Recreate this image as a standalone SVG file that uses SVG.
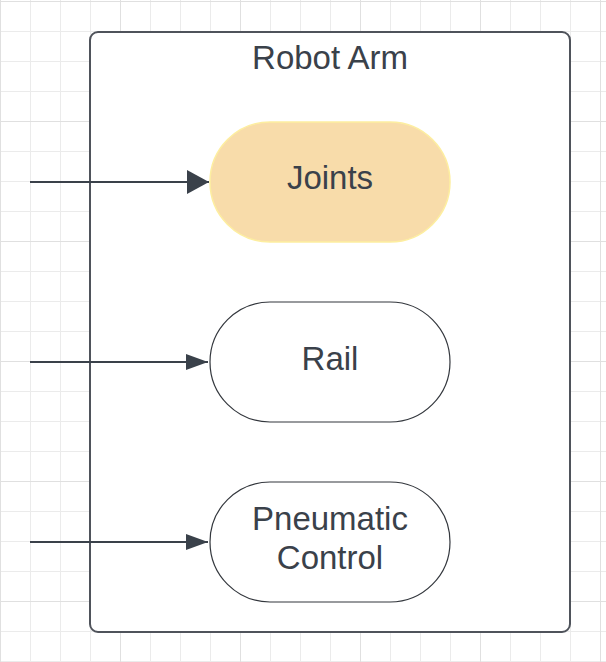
<svg xmlns="http://www.w3.org/2000/svg" width="606" height="662" viewBox="0 0 606 662">
  <defs>
    <pattern id="minor" patternUnits="userSpaceOnUse" x="0" y="1" width="30" height="30">
      <path d="M0.5 0 V30 M0 0.5 H30" stroke="#ebebeb" stroke-width="1" fill="none"/>
    </pattern>
    <pattern id="major" patternUnits="userSpaceOnUse" x="0" y="1" width="120" height="120">
      <path d="M0.5 0 V120 M0 0.5 H120" stroke="#e0e0e0" stroke-width="1" fill="none"/>
    </pattern>
    <marker id="bigHead" markerUnits="userSpaceOnUse" markerWidth="24" markerHeight="26" refX="22" refY="12" orient="auto">
      <path d="M0 0 L22 12 L0 24 Z" fill="#3a414a"/>
    </marker>
    <marker id="head" markerUnits="userSpaceOnUse" markerWidth="24" markerHeight="18" refX="22" refY="8" orient="auto">
      <path d="M0 0 L22 8 L0 16 Z" fill="#3a414a"/>
    </marker>
  </defs>
  <style>
    .lbl { font-family: "Liberation Sans", Arial, sans-serif; font-size: 33px; fill: #3a414a; text-anchor: middle; }
    .term { fill: #ffffff; stroke: #33373d; stroke-width: 1.2; }
    .conn { stroke: #3a414a; stroke-width: 2; fill: none; }
  </style>
  <rect width="606" height="662" fill="#ffffff"/>
  <rect width="606" height="662" fill="url(#minor)"/>
  <rect width="606" height="662" fill="url(#major)"/>

  <g id="robot-arm">
    <rect x="90" y="32" width="480" height="600" rx="8" ry="8" fill="#ffffff" stroke="#4f535b" stroke-width="2"/>
    <text class="lbl" x="330" y="69">Robot Arm</text>
  </g>

  <g id="joints">
    <rect x="210" y="122" width="240" height="120" rx="60" ry="60" fill="#f8dcaa" stroke="#fdeea0" stroke-width="1.5"/>
    <text class="lbl" x="330" y="189">Joints</text>
  </g>

  <g id="rail">
    <rect class="term" x="210" y="302" width="240" height="120" rx="60" ry="60"/>
    <text class="lbl" x="330" y="370">Rail</text>
  </g>

  <g id="pneumatic-control">
    <rect class="term" x="210" y="482" width="240" height="120" rx="60" ry="60"/>
    <text class="lbl" x="330" y="530">Pneumatic</text>
    <text class="lbl" x="330" y="569">Control</text>
  </g>

  <g id="connectors">
    <path class="conn" d="M30 182 H209" marker-end="url(#bigHead)"/>
    <path class="conn" d="M30 362 H208" marker-end="url(#head)"/>
    <path class="conn" d="M30 542 H208" marker-end="url(#head)"/>
  </g>
</svg>
